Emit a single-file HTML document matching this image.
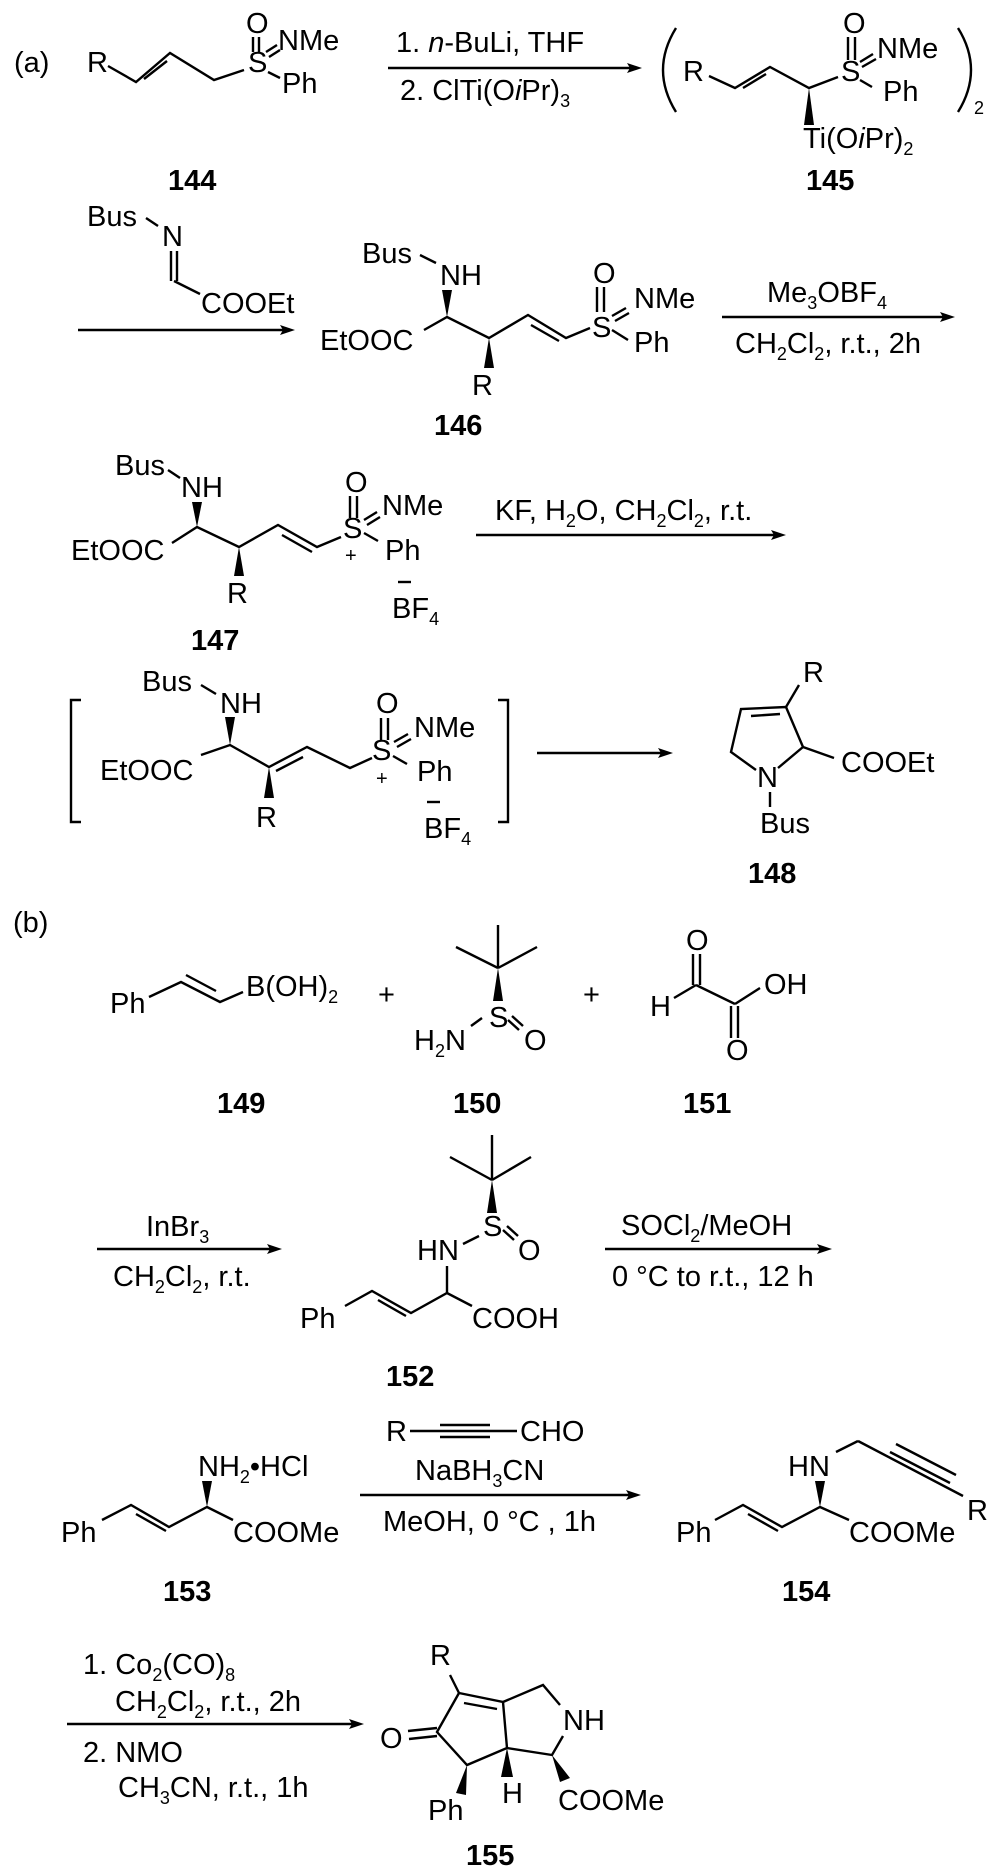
<!DOCTYPE html>
<html><head><meta charset="utf-8"><style>
html,body{margin:0;padding:0;background:#fff}
svg{display:block}
text{font-family:"Liberation Sans",Arial,sans-serif;font-size:29px;fill:#000}
.b{font-weight:bold}
.s{font-size:18px}
line,polyline,path{stroke:#000;stroke-width:2.4;fill:none}
polygon{fill:#000;stroke:none}
</style></head><body>
<svg width="1000" height="1875" viewBox="0 0 1000 1875" xmlns="http://www.w3.org/2000/svg">
<text x="14" y="72">(a)</text>
<text x="87" y="72">R</text>
<polyline points="108,66 136,82 170,53 214,80 244,70"/>
<line x1="144" y1="79" x2="167" y2="61"/>
<text x="248" y="72">S</text>
<text x="246" y="33">O</text>
<line x1="253" y1="37" x2="253" y2="52"/><line x1="259" y1="37" x2="259" y2="52"/>
<line x1="266" y1="52" x2="277" y2="45"/><line x1="269" y1="57" x2="280" y2="50"/>
<text x="278" y="50">NMe</text>
<line x1="268" y1="72" x2="280" y2="78"/>
<text x="282" y="93">Ph</text>

<line x1="388" y1="68" x2="630" y2="68"/><polygon points="642,68 627,63 630,68 627,73"/>
<text x="396" y="52">1. <tspan font-style="italic">n</tspan>-BuLi, THF</text>
<text x="400" y="100">2. ClTi(O<tspan font-style="italic">i</tspan>Pr)<tspan class="s" dy="7">3</tspan></text>

<path d="M676,28 Q650,70 676,112"/>
<text x="683" y="81">R</text>
<polyline points="709,76 735,88 770,67 809,88 838,77"/>
<line x1="743" y1="88" x2="766" y2="74"/>
<text x="841" y="81">S</text>
<text x="843" y="33">O</text>
<line x1="848" y1="37" x2="848" y2="60"/><line x1="855" y1="37" x2="855" y2="60"/>
<line x1="860" y1="62" x2="873" y2="54"/><line x1="862" y1="67" x2="876" y2="59"/>
<text x="877" y="58">NMe</text>
<line x1="860" y1="80" x2="872" y2="87"/>
<text x="883" y="101">Ph</text>
<polygon points="809,88 804,125 814,125"/>
<text x="803" y="148">Ti(O<tspan font-style="italic">i</tspan>Pr)<tspan class="s" dy="7">2</tspan></text>
<path d="M958,28 Q984,70 958,112"/>
<text class="s" x="974" y="114">2</text>
<text class="b" x="168" y="190">144</text>
<text class="b" x="806" y="190">145</text>

<line x1="78" y1="330" x2="283" y2="330"/><polygon points="295,330 280,325 283,330 280,335"/>
<text x="87" y="226">Bus</text>
<line x1="146" y1="218" x2="158" y2="226"/>
<text x="162" y="246">N</text>
<line x1="171" y1="251" x2="171" y2="281"/><line x1="177" y1="251" x2="177" y2="281"/>
<line x1="174" y1="281" x2="200" y2="294"/>
<text x="201" y="313">COOEt</text>

<text x="362" y="263">Bus</text>
<line x1="420" y1="255" x2="436" y2="263"/>
<text x="440" y="285">NH</text>
<polygon points="447,317 442,290 452,290"/>
<text x="320" y="350">EtOOC</text>
<polyline points="424,330 447,317 489,338 528,315 566,338 590,328"/>
<line x1="531" y1="325" x2="559" y2="341"/>
<polygon points="489,338 484,368 494,368"/>
<text x="472" y="395">R</text>
<text class="b" x="434" y="435">146</text>
<text x="592" y="337">S</text>
<text x="593" y="283">O</text>
<line x1="597" y1="287" x2="597" y2="312"/><line x1="604" y1="287" x2="604" y2="312"/>
<line x1="612" y1="316" x2="626" y2="308"/><line x1="615" y1="321" x2="629" y2="313"/>
<text x="634" y="308">NMe</text>
<line x1="612" y1="330" x2="628" y2="340"/>
<text x="634" y="352">Ph</text>
<line x1="722" y1="317" x2="943" y2="317"/><polygon points="955,317 940,312 943,317 940,322"/>
<text x="767" y="302">Me<tspan class="s" dy="7">3</tspan><tspan dy="-7">OBF</tspan><tspan class="s" dy="7">4</tspan></text>
<text x="735" y="353">CH<tspan class="s" dy="7">2</tspan><tspan dy="-7">Cl</tspan><tspan class="s" dy="7">2</tspan><tspan dy="-7">, r.t., 2h</tspan></text>

<text x="115" y="475">Bus</text>
<line x1="168" y1="470" x2="180" y2="478"/>
<text x="181" y="497">NH</text>
<polygon points="197,527 192,502 202,502"/>
<text x="71" y="560">EtOOC</text>
<polyline points="172,543 197,527 239,547 278,525 317,547 341,537"/>
<line x1="282" y1="535" x2="312" y2="552"/>
<polygon points="239,547 234,576 244,576"/>
<text x="227" y="603">R</text>
<text x="343" y="538">S</text>
<text x="345" y="492">O</text>
<line x1="350" y1="496" x2="350" y2="518"/><line x1="357" y1="496" x2="357" y2="518"/>
<line x1="364" y1="520" x2="377" y2="512"/><line x1="367" y1="525" x2="380" y2="517"/>
<text x="382" y="515">NMe</text>
<line x1="364" y1="533" x2="378" y2="541"/>
<text x="385" y="560">Ph</text>
<text x="345" y="562" style="font-size:20px">+</text>
<line x1="398" y1="582" x2="411" y2="582"/>
<text x="392" y="618">BF<tspan class="s" dy="7">4</tspan></text>
<text class="b" x="191" y="650">147</text>
<line x1="476" y1="535" x2="774" y2="535"/><polygon points="786,535 771,530 774,535 771,540"/>
<text x="495" y="520">KF, H<tspan class="s" dy="7">2</tspan><tspan dy="-7">O, CH</tspan><tspan class="s" dy="7">2</tspan><tspan dy="-7">Cl</tspan><tspan class="s" dy="7">2</tspan><tspan dy="-7">, r.t.</tspan></text>

<path d="M81,700 L71,700 L71,822 L81,822"/>
<path d="M498,700 L508,700 L508,822 L498,822"/>
<text x="142" y="691">Bus</text>
<line x1="201" y1="685" x2="216" y2="694"/>
<text x="220" y="713">NH</text>
<polygon points="230,745 225,717 235,717"/>
<text x="100" y="780">EtOOC</text>
<polyline points="201,755 230,745 269,767 307,747 350,768 372,758"/>
<line x1="276" y1="771" x2="303" y2="757"/>
<polygon points="269,767 264,798 274,798"/>
<text x="256" y="827">R</text>
<text x="372" y="760">S</text>
<text x="376" y="713">O</text>
<line x1="381" y1="718" x2="381" y2="740"/><line x1="388" y1="718" x2="388" y2="740"/>
<line x1="394" y1="742" x2="408" y2="734"/><line x1="397" y1="747" x2="411" y2="739"/>
<text x="414" y="737">NMe</text>
<line x1="393" y1="756" x2="407" y2="764"/>
<text x="417" y="781">Ph</text>
<text x="376" y="785" style="font-size:20px">+</text>
<line x1="427" y1="802" x2="440" y2="802"/>
<text x="424" y="838">BF<tspan class="s" dy="7">4</tspan></text>
<line x1="537" y1="753" x2="661" y2="753"/><polygon points="673,753 658,748 661,753 658,758"/>

<text x="803" y="682">R</text>
<line x1="799" y1="685" x2="786" y2="707"/>
<polyline points="803,747 786,707 741,709 731,752 756,770"/>
<line x1="751" y1="716" x2="780" y2="714"/>
<line x1="778" y1="768" x2="803" y2="747"/>
<line x1="803" y1="747" x2="834" y2="758"/>
<text x="757" y="787">N</text>
<text x="841" y="772">COOEt</text>
<line x1="770" y1="792" x2="770" y2="807"/>
<text x="760" y="833">Bus</text>
<text class="b" x="748" y="883">148</text>

<text x="13" y="932">(b)</text>
<text x="110" y="1013">Ph</text>
<polyline points="149,997 181,982 220,1002 243,992"/>
<line x1="186" y1="975" x2="216" y2="991"/>
<text x="246" y="996">B(OH)<tspan class="s" dy="7">2</tspan></text>
<text x="378" y="1004">+</text>
<text x="583" y="1004">+</text>

<line x1="498" y1="925" x2="498" y2="968"/>
<line x1="456" y1="947" x2="498" y2="968"/>
<line x1="537" y1="947" x2="498" y2="968"/>
<polygon points="498,968 493,1001 503,1001"/>
<text x="489" y="1027">S</text>
<text x="414" y="1050">H<tspan class="s" dy="7">2</tspan><tspan dy="-7">N</tspan></text>
<line x1="482" y1="1018" x2="471" y2="1026"/>
<line x1="508" y1="1020" x2="519" y2="1030"/><line x1="512" y1="1016" x2="523" y2="1026"/>
<text x="524" y="1050">O</text>

<text x="686" y="950">O</text>
<line x1="693" y1="954" x2="693" y2="985"/><line x1="700" y1="954" x2="700" y2="985"/>
<line x1="696" y1="985" x2="674" y2="998"/>
<text x="650" y="1016">H</text>
<line x1="696" y1="985" x2="735" y2="1004"/>
<line x1="735" y1="1004" x2="760" y2="988"/>
<text x="764" y="994">OH</text>
<line x1="731" y1="1006" x2="731" y2="1038"/><line x1="738" y1="1006" x2="738" y2="1038"/>
<text x="726" y="1060">O</text>
<text class="b" x="217" y="1113">149</text>
<text class="b" x="453" y="1113">150</text>
<text class="b" x="683" y="1113">151</text>

<line x1="97" y1="1249" x2="270" y2="1249"/><polygon points="282,1249 267,1244 270,1249 267,1254"/>
<text x="146" y="1236">InBr<tspan class="s" dy="7">3</tspan></text>
<text x="113" y="1286">CH<tspan class="s" dy="7">2</tspan><tspan dy="-7">Cl</tspan><tspan class="s" dy="7">2</tspan><tspan dy="-7">, r.t.</tspan></text>
<line x1="492" y1="1135" x2="492" y2="1180"/>
<line x1="450" y1="1157" x2="492" y2="1180"/>
<line x1="531" y1="1157" x2="492" y2="1180"/>
<polygon points="492,1180 487,1213 497,1213"/>
<text x="483" y="1236">S</text>
<text x="417" y="1260">HN</text>
<line x1="463" y1="1244" x2="479" y2="1236"/>
<line x1="503" y1="1230" x2="514" y2="1240"/><line x1="507" y1="1226" x2="518" y2="1236"/>
<text x="518" y="1260">O</text>
<line x1="447" y1="1266" x2="447" y2="1293"/>
<polyline points="345,1306 372,1291 411,1313 447,1293 472,1306"/>
<line x1="378" y1="1300" x2="406" y2="1316"/>
<text x="300" y="1328">Ph</text>
<text x="472" y="1328">COOH</text>
<text class="b" x="386" y="1386">152</text>
<line x1="605" y1="1249" x2="820" y2="1249"/><polygon points="832,1249 817,1244 820,1249 817,1254"/>
<text x="621" y="1235">SOCl<tspan class="s" dy="7">2</tspan><tspan dy="-7">/MeOH</tspan></text>
<text x="612" y="1286">0 °C to r.t., 12 h</text>

<text x="198" y="1476">NH<tspan class="s" dy="7">2</tspan><tspan dy="-7">•HCl</tspan></text>
<polygon points="207,1507 202,1481 212,1481"/>
<polyline points="102,1520 131,1505 169,1527 207,1507 233,1520"/>
<line x1="136" y1="1514" x2="166" y2="1531"/>
<text x="61" y="1542">Ph</text>
<text x="233" y="1542">COOMe</text>
<text class="b" x="163" y="1601">153</text>

<line x1="360" y1="1495" x2="629" y2="1495"/><polygon points="641,1495 626,1490 629,1495 626,1500"/>
<text x="386" y="1441">R</text>
<line x1="410" y1="1431" x2="517" y2="1431"/>
<line x1="440" y1="1425" x2="490" y2="1425"/><line x1="440" y1="1437" x2="490" y2="1437"/>
<text x="520" y="1441">CHO</text>
<text x="415" y="1480">NaBH<tspan class="s" dy="7">3</tspan><tspan dy="-7">CN</tspan></text>
<text x="383" y="1531">MeOH, 0 °C , 1h</text>

<text x="788" y="1476">HN</text>
<line x1="836" y1="1452" x2="858" y2="1441"/>
<line x1="858" y1="1441" x2="963" y2="1496"/>
<line x1="890" y1="1452" x2="950" y2="1483"/><line x1="896" y1="1444" x2="956" y2="1475"/>
<text x="967" y="1520">R</text>
<polygon points="820,1507 815,1481 825,1481"/>
<polyline points="715,1520 743,1505 782,1527 820,1507 849,1520"/>
<line x1="748" y1="1514" x2="778" y2="1531"/>
<text x="676" y="1542">Ph</text>
<text x="849" y="1542">COOMe</text>
<text class="b" x="782" y="1601">154</text>

<line x1="67" y1="1724" x2="352" y2="1724"/><polygon points="364,1724 349,1719 352,1724 349,1729"/>
<text x="83" y="1674">1. Co<tspan class="s" dy="7">2</tspan><tspan dy="-7">(CO)</tspan><tspan class="s" dy="7">8</tspan></text>
<text x="115" y="1711">CH<tspan class="s" dy="7">2</tspan><tspan dy="-7">Cl</tspan><tspan class="s" dy="7">2</tspan><tspan dy="-7">, r.t., 2h</tspan></text>
<text x="83" y="1762">2. NMO</text>
<text x="118" y="1797">CH<tspan class="s" dy="7">3</tspan><tspan dy="-7">CN, r.t., 1h</tspan></text>

<text x="430" y="1665">R</text>
<line x1="450" y1="1675" x2="459" y2="1693"/>
<polyline points="459,1693 503,1702 507,1748 467,1765 437,1732 459,1693"/>
<line x1="464" y1="1703" x2="497" y2="1709"/>
<line x1="408" y1="1731" x2="437" y2="1728"/><line x1="409" y1="1739" x2="437" y2="1736"/>
<text x="380" y="1748">O</text>
<polyline points="503,1702 543,1685 560,1705"/>
<text x="563" y="1730">NH</text>
<polyline points="563,1736 552,1755 507,1748"/>
<polygon points="507,1748 501,1777 513,1777"/>
<text x="502" y="1803">H</text>
<polygon points="467,1765 456,1793 466,1795"/>
<text x="428" y="1820">Ph</text>
<polygon points="552,1755 560,1782 570,1778"/>
<text x="558" y="1810">COOMe</text>
<text class="b" x="466" y="1865">155</text>
</svg>
</body></html>
